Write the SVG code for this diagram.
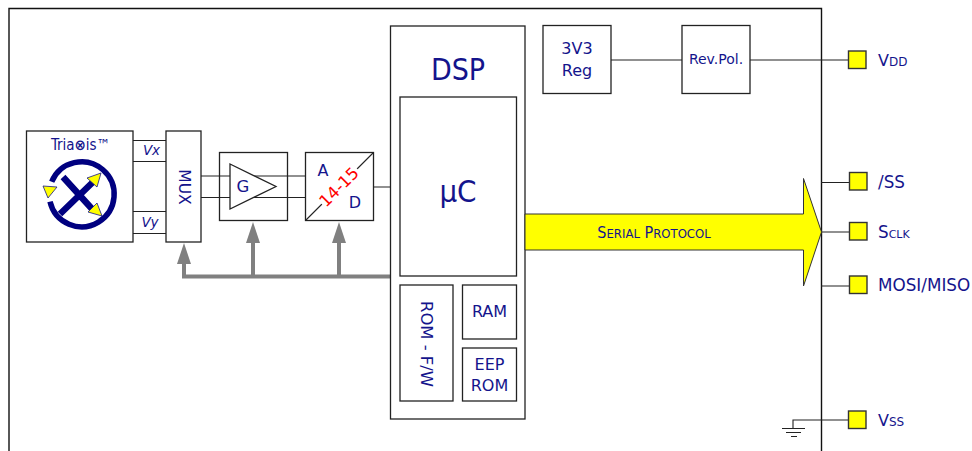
<svg xmlns="http://www.w3.org/2000/svg" width="972" height="451" viewBox="0 0 972 451">
<style>
text{font-family:"DejaVu Sans",sans-serif;fill:#14148c;text-anchor:middle}
.c{font-family:"DejaVu Sans Condensed","DejaVu Sans",sans-serif}
.b{fill:#fff;stroke:#222;stroke-width:1.3}
.l{fill:none;stroke:#222;stroke-width:1.1}
.p{fill:#ff0;stroke:#333;stroke-width:1.4}
.g{fill:none;stroke:#808080;stroke-width:4}
.h{fill:#808080}
.i{fill:#ff0;stroke:#14148c;stroke-width:.8}
.n{text-anchor:start}
</style>
<rect width="972" height="451" fill="#fff"/>
<path id="frame" d="M9 451V8.500H821.500V451" fill="none" stroke="#111" stroke-width="1.400"/>
<g id="connectors">
<path class="l" d="M133 140.500H166M133 161.500H166M133 211.500H166M133 233.500H166M201 176H305M201 197.500H305M373 187H390.500M611 60H682M750 60H848M821 182.500H849M821 232H849M821 286H849M793 428V420H848M782 428.500H805M786 432.500H801M791 436.500H797"/>
<path class="g" d="M390 276.500H184V262M253 276.500V241M339 276.500V241"/>
<path class="h" d="M184 243L177 264H191ZM253 222L246 243H260ZM339 222L332 243H346Z"/>
</g>
<g id="triaxis">
<rect class="b" x="26.500" y="131" width="106.500" height="111"/>
<text x="80.500" y="150" font-size="15" class="c">Tria<tspan font-weight="bold">⊗</tspan>is™</text>
<path d="M51.700 181.700A32.500 32.500 0 1 1 50 201.700" fill="none" stroke="#000080" stroke-width="5.500"/>
<path d="M63 177L93 210M60 214L93 182" fill="none" stroke="#000080" stroke-width="6.500"/>
<path class="i" d="M87 178L101 173L97 187ZM97 203L102 216L88 212ZM43 186L57 187L48 198Z"/>
</g>
<g id="vx"><text x="151.500" y="155" font-size="13.500" font-style="italic">Vx</text></g>
<g id="vy"><text x="150" y="227" font-size="13.500" font-style="italic">Vy</text></g>
<g id="mux">
<rect class="b" x="166" y="131" width="35" height="111"/>
<text transform="translate(178.500 187) rotate(90)" font-size="15.500">MUX</text>
</g>
<g id="gain">
<rect x="219.500" y="152.500" width="68" height="68" fill="none" stroke="#222" stroke-width="1.300"/>
<path class="b" d="M230 164L276 186.500L230 209Z"/>
<text x="243" y="192" font-size="16.500">G</text>
</g>
<g id="adc">
<rect x="305.500" y="152.500" width="68" height="68" class="b"/>
<path class="l" d="M305.500 220.500L373.500 152.500"/>
<rect x="314" y="177" width="50" height="18" fill="#fff" transform="rotate(-45 339 186)"/>
<text x="323" y="176" font-size="16">A</text>
<text x="355" y="208" font-size="16">D</text>
<text transform="translate(343 191) rotate(-45)" font-size="16.500" style="fill:#f00">14-15</text>
</g>
<g id="dsp">
<rect class="b" x="390.500" y="26" width="134.500" height="393"/>
<text x="458" y="80" font-size="30" class="c">DSP</text>
</g>
<g id="uc">
<rect class="b" x="400" y="97" width="116.500" height="179"/>
<text x="458" y="202" font-size="31" class="c">µC</text>
</g>
<g id="rom">
<rect class="b" x="400" y="285" width="53" height="116"/>
<text transform="translate(420.500 344) rotate(90)" font-size="16.400">ROM - F/W</text>
</g>
<g id="ram">
<rect class="b" x="462.500" y="285" width="54" height="54"/>
<text x="489.500" y="317" font-size="16">RAM</text>
</g>
<g id="eeprom">
<rect class="b" x="462.500" y="348" width="54" height="53"/>
<text x="489.500" y="370" font-size="16">EEP</text>
<text x="489.500" y="390.500" font-size="16">ROM</text>
</g>
<g id="reg">
<rect class="b" x="543" y="25.500" width="68" height="68"/>
<text x="577" y="54" font-size="16">3V3</text>
<text x="577" y="76" font-size="16">Reg</text>
</g>
<g id="revpol">
<rect class="b" x="682" y="25.500" width="68" height="68"/>
<text x="716" y="64" font-size="14">Rev.Pol.</text>
</g>
<g id="serial">
<path d="M525 214H803.500V178.500L821.500 232L803.500 286V250H525Z" fill="#ff0" stroke="#333" stroke-width="1"/>
<text x="654" y="238" font-size="16" class="c">S<tspan font-size="13">ERIAL</tspan> P<tspan font-size="13">ROTOCOL</tspan></text>
</g>
<g id="pin-vdd"><rect class="p" x="848.500" y="51" width="17.500" height="17.500"/><text class="n" x="878" y="66" font-size="16">V<tspan font-size="12">DD</tspan></text></g>
<g id="pin-ss"><rect class="p" x="849.500" y="172.500" width="17.500" height="17.500"/><text class="n" x="878" y="188" font-size="16.800">/SS</text></g>
<g id="pin-sclk"><rect class="p" x="849.500" y="222.500" width="17.500" height="17.500"/><text class="n" x="878" y="238" font-size="16.800">S<tspan font-size="11">CLK</tspan></text></g>
<g id="pin-mosi"><rect class="p" x="849.500" y="276" width="17.500" height="17.500"/><text class="n" x="878" y="291" font-size="16.800">MOSI/MISO</text></g>
<g id="pin-vss"><rect class="p" x="848.500" y="411" width="17.500" height="17.500"/><text class="n" x="878" y="426" font-size="16">V<tspan font-size="12">SS</tspan></text></g>
</svg>
